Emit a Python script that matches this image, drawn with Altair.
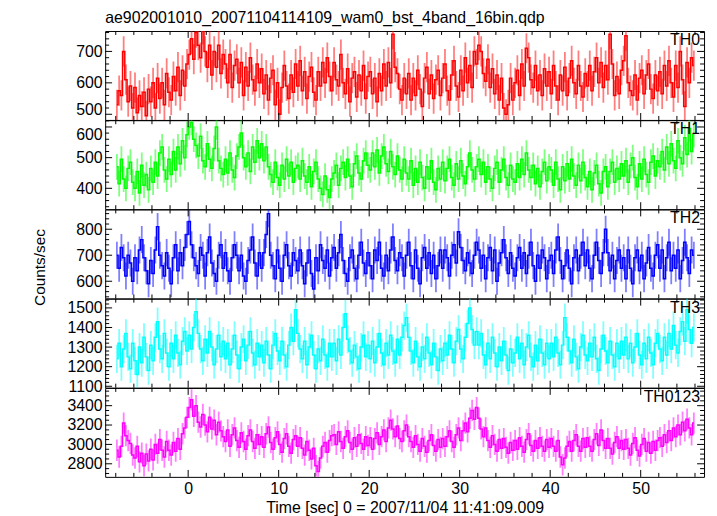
import math
import altair as alt
import pandas as pd

FONT = "Liberation Sans"
TITLE = "ae902001010_20071104114109_wam0_bst_4band_16bin.qdp"
X_TITLE = "Time [sec] 0 = 2007/11/04 11:41:09.009"
Y_TITLE = "Counts/sec"

BIN_START = -8.0
BIN_WIDTH = 0.25

PANEL_NAMES = ["TH0", "TH1", "TH2", "TH3", "TH0123"]
PANEL_COLORS = ["#ff0000", "#00ff00", "#0000ff", "#00ffff", "#ff00ff"]
Y_DOMAINS = [[482, 765], [332, 622], [534, 876], [1093, 1547], [2665, 3583]]
Y_MAJOR = [[500, 600, 700], [400, 500, 600], [600, 700, 800],
           [1100, 1200, 1300, 1400, 1500], [2800, 3000, 3200, 3400]]
Y_MINOR_STEP = [20, 20, 20, 20, 50]
ERR = [48, 42, 52, 72, 110]
X_DOMAIN = [-9.17, 57.0]
X_MAJOR = [0, 10, 20, 30, 40, 50]
X_MINOR_STEP = 2

TH0 = [
    530, 575, 560, 700, 610, 540, 590, 520, 585, 505, 560, 525, 570, 495, 580, 540,
    600, 520, 615, 550, 600, 530, 630, 570, 545, 620, 575, 650, 560, 640, 590, 660,
    690, 740, 675, 760, 720, 680, 770, 700, 650, 720, 625, 700, 650, 720, 630, 690,
    660, 600, 690, 585, 655, 675, 600, 665, 560, 650, 590, 680, 610, 575, 660, 600,
    645, 565, 625, 545, 615, 640, 530, 600, 500, 585, 655, 590, 550, 625, 570, 660,
    590, 670, 575, 635, 550, 620, 650, 570, 545, 635, 590, 665, 600, 680, 620, 575,
    665, 610, 590, 690, 600, 565, 645, 540, 615, 635, 555, 625, 575, 655, 550, 620,
    635, 565, 615, 540, 630, 575, 660, 590, 665, 600, 755, 650, 630, 580, 545, 615,
    565, 630, 545, 615, 560, 640, 580, 525, 615, 650, 565, 625, 550, 610, 640, 560,
    615, 660, 575, 545, 625, 670, 590, 555, 640, 575, 680, 600, 655, 585, 700, 660,
    720, 700, 630, 605, 675, 585, 645, 565, 625, 545, 615, 520, 500, 530, 615, 545,
    600, 640, 560, 660, 590, 710, 680, 610, 585, 655, 575, 625, 560, 645, 590, 635,
    565, 655, 590, 545, 625, 575, 650, 560, 615, 670, 600, 565, 655, 590, 555, 630,
    590, 655, 575, 635, 680, 600, 665, 585, 655, 610, 755, 660, 560, 620, 565, 640,
    670, 750, 600, 575, 560, 625, 545, 615, 640, 565, 625, 660, 580, 550, 625, 575,
    635, 565, 655, 590, 670, 600, 555, 655, 585, 700, 610, 525, 665, 600, 680, 655,
]
TH1 = [
    470, 415, 495, 430, 400, 465, 485, 420, 400, 455, 385, 475, 410, 445, 395, 465,
    420, 485, 440, 515, 535, 460, 430, 495, 445, 520, 460, 535, 480, 555, 500, 575,
    600, 615, 560, 540, 505, 570, 490, 470, 545, 495, 465, 530, 600, 490, 465, 445,
    495, 450, 515, 460, 435, 505, 535, 580, 500, 470, 515, 455, 535, 485, 555, 500,
    545, 490, 535, 470, 445, 420, 485, 435, 410, 475, 430, 495, 440, 485, 420, 465,
    475, 430, 490, 440, 420, 470, 405, 455, 485, 430, 400, 380, 440, 395, 370, 430,
    450, 475, 410, 465, 485, 435, 495, 440, 405, 480, 505, 450, 430, 490, 515, 475,
    460, 515, 470, 525, 450, 505, 535, 480, 455, 520, 470, 445, 505, 460, 430, 495,
    450, 430, 490, 410, 465, 420, 485, 435, 400, 470, 430, 490, 420, 395, 465, 430,
    485, 425, 465, 495, 435, 410, 480, 430, 490, 440, 415, 470, 515, 460, 430, 470,
    495, 445, 485, 420, 470, 430, 400, 465, 485, 420, 460, 495, 435, 410, 475, 430,
    420, 480, 435, 495, 445, 515, 460, 435, 475, 415, 465, 405, 455, 485, 425, 470,
    460, 410, 485, 430, 395, 470, 425, 480, 430, 495, 440, 410, 475, 425, 485, 435,
    405, 455, 395, 450, 475, 415, 385, 455, 470, 405, 455, 485, 420, 465, 430, 480,
    440, 490, 420, 475, 500, 435, 405, 480, 430, 495, 445, 420, 485, 505, 440, 490,
    470, 520, 460, 535, 480, 545, 490, 465, 555, 500, 480, 565, 510, 595, 520, 575,
]
TH2 = [
    700, 650, 730, 690, 620, 700, 670, 600, 690, 640, 720, 760, 690, 640, 590, 680,
    630, 720, 810, 700, 660, 620, 710, 650, 590, 690, 740, 640, 710, 660, 730, 780,
    830, 740, 690, 660, 630, 730, 700, 620, 710, 770, 670, 630, 600, 700, 740, 650,
    710, 640, 600, 690, 740, 700, 640, 700, 620, 600, 680, 720, 770, 670, 620, 710,
    650, 710, 780, 860, 700, 660, 610, 720, 650, 600, 700, 740, 660, 620, 710, 680,
    640, 720, 660, 590, 670, 720, 630, 570, 690, 640, 740, 680, 650, 720, 620, 690,
    730, 650, 710, 780, 680, 630, 600, 690, 720, 650, 610, 700, 750, 670, 630, 710,
    660, 610, 720, 680, 750, 650, 620, 700, 640, 720, 770, 680, 640, 710, 690, 620,
    700, 750, 660, 610, 720, 650, 590, 690, 730, 650, 710, 630, 700, 610, 660, 720,
    650, 720, 690, 620, 700, 740, 670, 790, 730, 680, 640, 710, 670, 630, 700, 750,
    720, 650, 700, 610, 690, 730, 640, 720, 600, 670, 710, 760, 690, 630, 710, 650,
    620, 690, 730, 650, 710, 630, 700, 750, 660, 600, 700, 650, 720, 690, 610, 680,
    700, 630, 720, 770, 680, 610, 660, 720, 650, 590, 690, 720, 640, 700, 750, 660,
    720, 650, 610, 700, 750, 680, 630, 710, 800, 710, 640, 700, 610, 680, 720, 650,
    690, 610, 720, 650, 590, 690, 720, 640, 700, 610, 670, 730, 650, 620, 700, 740,
    650, 720, 610, 690, 750, 640, 700, 650, 720, 610, 680, 750, 690, 630, 720, 700,
]
TH3 = [
    1240, 1320, 1200, 1290, 1370, 1250, 1190, 1320, 1230, 1160, 1300, 1220, 1350, 1250, 1180, 1310,
    1230, 1350, 1430, 1290, 1240, 1370, 1270, 1200, 1320, 1240, 1360, 1270, 1210, 1330, 1380, 1280,
    1360, 1290, 1400, 1480, 1370, 1290, 1230, 1340, 1270, 1380, 1300, 1210, 1290, 1360, 1250, 1330,
    1240, 1320, 1210, 1290, 1360, 1260, 1190, 1300, 1340, 1230, 1310, 1380, 1270, 1210, 1320, 1250,
    1310, 1220, 1330, 1260, 1190, 1310, 1370, 1280, 1230, 1330, 1260, 1200, 1310, 1400, 1330, 1490,
    1370, 1290, 1240, 1330, 1210, 1300, 1360, 1260, 1190, 1290, 1230, 1340, 1260, 1200, 1320, 1250,
    1320, 1230, 1340, 1260, 1400, 1470, 1340, 1280, 1220, 1310, 1250, 1190, 1300, 1360, 1250, 1310,
    1240, 1330, 1220, 1300, 1370, 1270, 1210, 1320, 1260, 1360, 1280, 1220, 1340, 1260, 1350, 1410,
    1450, 1350, 1280, 1220, 1330, 1250, 1200, 1300, 1240, 1350, 1270, 1210, 1320, 1250, 1180, 1290,
    1230, 1320, 1260, 1360, 1290, 1220, 1330, 1390, 1290, 1240, 1350, 1420, 1500, 1390, 1310, 1380,
    1310, 1370, 1260, 1210, 1320, 1240, 1350, 1270, 1200, 1300, 1230, 1330, 1260, 1180, 1290, 1220,
    1270, 1350, 1240, 1320, 1210, 1300, 1360, 1250, 1200, 1310, 1230, 1340, 1270, 1210, 1320, 1240,
    1320, 1250, 1350, 1270, 1210, 1310, 1450, 1350, 1280, 1220, 1340, 1250, 1190, 1300, 1360, 1260,
    1230, 1320, 1250, 1350, 1240, 1180, 1290, 1360, 1280, 1220, 1330, 1260, 1200, 1320, 1240, 1330,
    1260, 1350, 1240, 1320, 1220, 1300, 1370, 1260, 1210, 1320, 1240, 1350, 1270, 1210, 1320, 1370,
    1290, 1230, 1350, 1260, 1370, 1290, 1410, 1310, 1270, 1380, 1430, 1330, 1490, 1390, 1320, 1400,
]
TH0123 = [
    2940, 2870, 2980, 3220, 3090, 3040, 3010, 2890, 2860, 2980, 2820, 2910, 2780, 2900, 2830, 2950,
    2840, 3000, 2910, 3050, 2940, 2870, 3030, 2940, 2890, 3020, 2930, 3060, 2950, 3110, 3170, 3280,
    3380, 3460, 3290, 3400, 3230, 3180, 3310, 3200, 3130, 3280, 3160, 3250, 3100, 3230, 3140, 3080,
    3030, 3150, 2980, 3100, 3170, 3040, 2970, 3120, 3030, 2950, 3090, 3150, 3030, 2960, 3100, 3000,
    3080, 2970, 3110, 3180, 3020, 2950, 3070, 3130, 3000, 2920, 3060, 3110, 2980, 2910, 3050, 3090,
    2980, 3070, 2960, 2890, 3030, 2940, 2850, 2960, 2780, 2720, 2860, 2980, 3020, 2920, 3040, 3090,
    3100, 3000, 3130, 3030, 2960, 3080, 3140, 3020, 2950, 3070, 2980, 3100, 3010, 2950, 3080, 2990,
    3070, 2950, 3060, 3120, 3000, 3080, 3150, 3030, 3170, 3250, 3160, 3080, 3190, 3060, 3030, 3140,
    3200, 3080, 3030, 2970, 3090, 3000, 2930, 3060, 2980, 2920, 3040, 3100, 2990, 2930, 3050, 2970,
    3060, 2980, 3080, 3140, 3030, 2970, 3100, 3170, 3040, 3140, 3220, 3130, 3270, 3350, 3260, 3380,
    3270, 3160, 3080, 3170, 3040, 2970, 3090, 3000, 2930, 3050, 2960, 3060, 2970, 2910, 3020, 2940,
    3040, 2950, 3070, 2980, 2920, 3050, 3110, 2990, 2930, 3040, 2960, 3070, 2980, 2930, 3050, 2970,
    3060, 2980, 2930, 3040, 2870, 2790, 2860, 2980, 3030, 2930, 3040, 3100, 2980, 2930, 3060, 2970,
    3070, 2980, 2930, 3050, 3110, 2990, 3150, 3040, 2960, 3060, 2960, 2900, 3020, 3080, 2960, 3040,
    2950, 3050, 2960, 2890, 3010, 3070, 2940, 2880, 3000, 3060, 2930, 3020, 2910, 3030, 2940, 3040,
    3070, 2980, 3100, 3020, 3140, 3040, 3170, 3080, 3200, 3100, 3230, 3140, 3260, 3170, 3100, 3220,
]

SERIES = [TH0, TH1, TH2, TH3, TH0123]
for s in SERIES:
    assert len(s) == 256, len(s)

W = 604
H = 89.7
TICK_MAJOR = 7
TICK_MINOR = 4
LABEL_SIZE = 16


def minor_ticks(lo, hi, step, major):
    out = []
    v = int(math.ceil(lo / step)) * step
    while v <= hi:
        if v not in major:
            out.append(v)
        v += step
    return out


times = [BIN_START + BIN_WIDTH * (i + 0.5) for i in range(256)]
x_minor = minor_ticks(X_DOMAIN[0], X_DOMAIN[1], X_MINOR_STEP, X_MAJOR)

# labels that sit right at a panel boundary are nudged so they do not collide
BASELINE_RULE = {
    0: {"condition": {"test": "datum.value == 500", "value": "alphabetic"}, "value": "middle"},
    1: {"condition": {"test": "datum.value == 600", "value": "top"}, "value": "middle"},
}

panels = []
for k in range(5):
    vals = SERIES[k]
    df = pd.DataFrame({"t": times, "v": vals})
    df["lo"] = df["v"] - ERR[k]
    df["hi"] = df["v"] + ERR[k]
    color = PANEL_COLORS[k]
    xsc = alt.Scale(domain=X_DOMAIN, nice=False, zero=False)
    ysc = alt.Scale(domain=Y_DOMAINS[k], nice=False, zero=False)

    ykw = dict(values=Y_MAJOR[k], format="d", ticks=False, tickSize=0, domain=False, grid=False,
               labelFontSize=LABEL_SIZE, labelPadding=3, labelFlush=False, labelOverlap=False,
               labelColor="black", labelFont=FONT)
    if k in BASELINE_RULE:
        ykw["labelBaseline"] = BASELINE_RULE[k]
    if k == 2:
        ykw.update(title=Y_TITLE, titleFontSize=15.5, titleFontWeight="normal",
                   titleX=-58, titleY=58, titleFont=FONT, titleColor="black")
    else:
        ykw.update(title=None)
    yaxis = alt.Axis(**ykw)

    if k == 4:
        xaxis = alt.Axis(values=X_MAJOR, format="d", ticks=False, tickSize=0, domain=False,
                         grid=False, labelFontSize=LABEL_SIZE, labelPadding=4, labelFlush=False,
                         labelColor="black", labelFont=FONT,
                         title=X_TITLE, titleFontSize=16, titleFontWeight="normal",
                         titlePadding=3, titleFont=FONT, titleColor="black")
    else:
        xaxis = None

    base = alt.Chart(df)
    err = base.mark_rule(color=color, opacity=0.5, strokeWidth=1.8, clip=True).encode(
        x=alt.X("t:Q", scale=xsc, axis=xaxis),
        y=alt.Y("lo:Q", scale=ysc, axis=yaxis),
        y2=alt.Y2("hi:Q"),
    )
    line = base.mark_line(interpolate="step", color=color, strokeWidth=1.5, clip=True).encode(
        x=alt.X("t:Q", scale=xsc, axis=xaxis),
        y=alt.Y("v:Q", scale=ysc, axis=yaxis),
    )
    layers = [err, line]

    y_minor = minor_ticks(Y_DOMAINS[k][0], Y_DOMAINS[k][1], Y_MINOR_STEP[k], Y_MAJOR[k])
    for tvals, ln in ((Y_MAJOR[k], TICK_MAJOR), (y_minor, TICK_MINOR)):
        tdf = pd.DataFrame({"yt": tvals})
        for x0 in (0, W - ln):
            layers.append(
                alt.Chart(tdf).mark_rule(color="black", strokeWidth=1).encode(
                    y=alt.Y("yt:Q", scale=ysc, axis=yaxis),
                    x=alt.value(x0), x2=alt.value(x0 + ln),
                )
            )
    for tvals, ln in ((X_MAJOR, TICK_MAJOR), (x_minor, TICK_MINOR)):
        tdf = pd.DataFrame({"xt": tvals})
        for y0 in (0, H - ln):
            layers.append(
                alt.Chart(tdf).mark_rule(color="black", strokeWidth=1).encode(
                    x=alt.X("xt:Q", scale=xsc, axis=xaxis),
                    y=alt.value(y0), y2=alt.value(y0 + ln),
                )
            )
    label_df = pd.DataFrame({"name": [PANEL_NAMES[k]]})
    layers.append(
        alt.Chart(label_df).mark_text(align="right", baseline="top", fontSize=16,
                                      font=FONT, color="black").encode(
            x=alt.value(W - 4), y=alt.value(1), text=alt.Text("name:N"))
    )
    panels.append(alt.layer(*layers).properties(width=W, height=H))

chart = alt.vconcat(*panels, spacing=0, bounds="flush").properties(
    title=alt.TitleParams(TITLE, anchor="start", frame="group", fontSize=16,
                          fontWeight="normal", font=FONT, color="black", offset=4),
    padding={"left": 24, "top": 0, "right": 4, "bottom": 0},
).configure_view(stroke="black", strokeWidth=1)

chart.save("out.html", embed_options={"renderer": "svg", "actions": False})
